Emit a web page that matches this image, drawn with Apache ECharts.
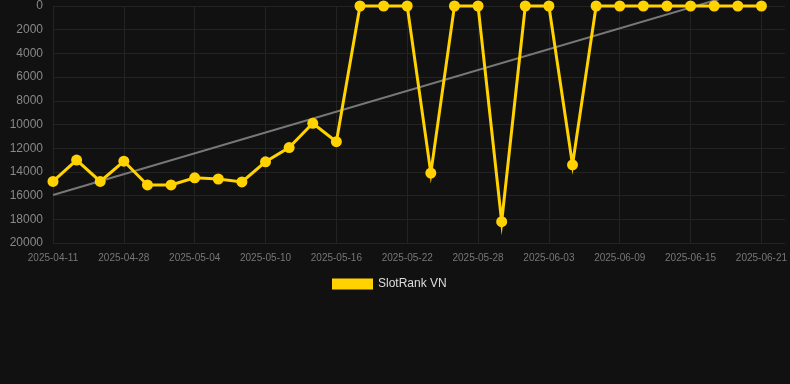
<!DOCTYPE html>
<html>
<head>
<meta charset="utf-8">
<script src="https://cdn.jsdelivr.net/npm/echarts@6/dist/echarts.min.js"></script>
<style>
html,body{margin:0;padding:0;background:#111111;}
#chart{width:790px;height:384px;}
</style>
</head>
<body>
<div id="chart"></div>
<script>
const categories = [
  '2025-04-11','2025-04-24','2025-04-26','2025-04-28','2025-04-30','2025-05-02','2025-05-04',
  '2025-05-06','2025-05-08','2025-05-10','2025-05-12','2025-05-14','2025-05-16','2025-05-18',
  '2025-05-20','2025-05-22','2025-05-24','2025-05-26','2025-05-28','2025-05-30','2025-06-01',
  '2025-06-03','2025-06-05','2025-06-07','2025-06-09','2025-06-11','2025-06-13','2025-06-15',
  '2025-06-17','2025-06-19','2025-06-21'
];
const rankValues = [
  14800, 13000, 14800, 13100, 15100, 15100, 14500,
  14600, 14850, 13150, 11950, 9900, 11450, 0,
  0, 0, 14100, 0, 0, 18200, 0,
  0, 13400, 0, 0, 0, 0, 0,
  0, 0, 0
];
// trend line endpoints (first and last category)
const trendValues = [15950, -1630];
const yTicks = { min: 0, max: 20000, interval: 2000 };

const chart = echarts.init(document.getElementById('chart'));
const gridColor = '#232323';
chart.setOption({
  backgroundColor: '#111111',
  animation: false,
  grid: { left: 53, right: 0, top: 6, bottom: 141 },
  legend: {
    data: ['SlotRank VN'],
    left: 327, top: 273,
    icon: 'rect', itemWidth: 41, itemHeight: 11, itemGap: 10,
    textStyle: { color: '#dddddd', fontSize: 12, fontFamily: 'Liberation Sans, Arial, sans-serif' }
  },
  xAxis: {
    type: 'category',
    data: categories,
    boundaryGap: false,
    min: 0,
    max: 31.2,
    axisLine: { show: false },
    axisTick: { show: true, interval: 2, length: 8, lineStyle: { color: gridColor } },
    axisLabel: { interval: 2, color: '#777777', fontSize: 10, margin: 10,
      fontFamily: 'Liberation Sans, Arial, sans-serif' },
    splitLine: { show: true, interval: 2, lineStyle: { color: gridColor } }
  },
  yAxis: {
    type: 'value',
    inverse: true,
    min: yTicks.min, max: yTicks.max, interval: yTicks.interval,
    axisLine: { show: false },
    axisTick: { show: false },
    axisLabel: { color: '#888888', fontSize: 12, margin: 10,
      formatter: v => String(v),
      fontFamily: 'Liberation Sans, Arial, sans-serif' },
    splitLine: { show: true, lineStyle: { color: gridColor } }
  },
  series: [
    {
      name: 'trend',
      type: 'line',
      data: [[0, trendValues[0]], [categories.length - 1, trendValues[1]]],
      symbol: 'none',
      clip: false,
      silent: true,
      z: 1,
      lineStyle: { color: '#777777', width: 2 }
    },
    {
      name: 'SlotRank VN',
      type: 'line',
      data: rankValues,
      symbol: 'circle',
      symbolSize: 11,
      clip: false,
      z: 3,
      itemStyle: { color: '#FFD200' },
      lineStyle: { color: '#FFD200', width: 3, join: 'miter', miterLimit: 10 }
    }
  ]
});
</script>
</body>
</html>
